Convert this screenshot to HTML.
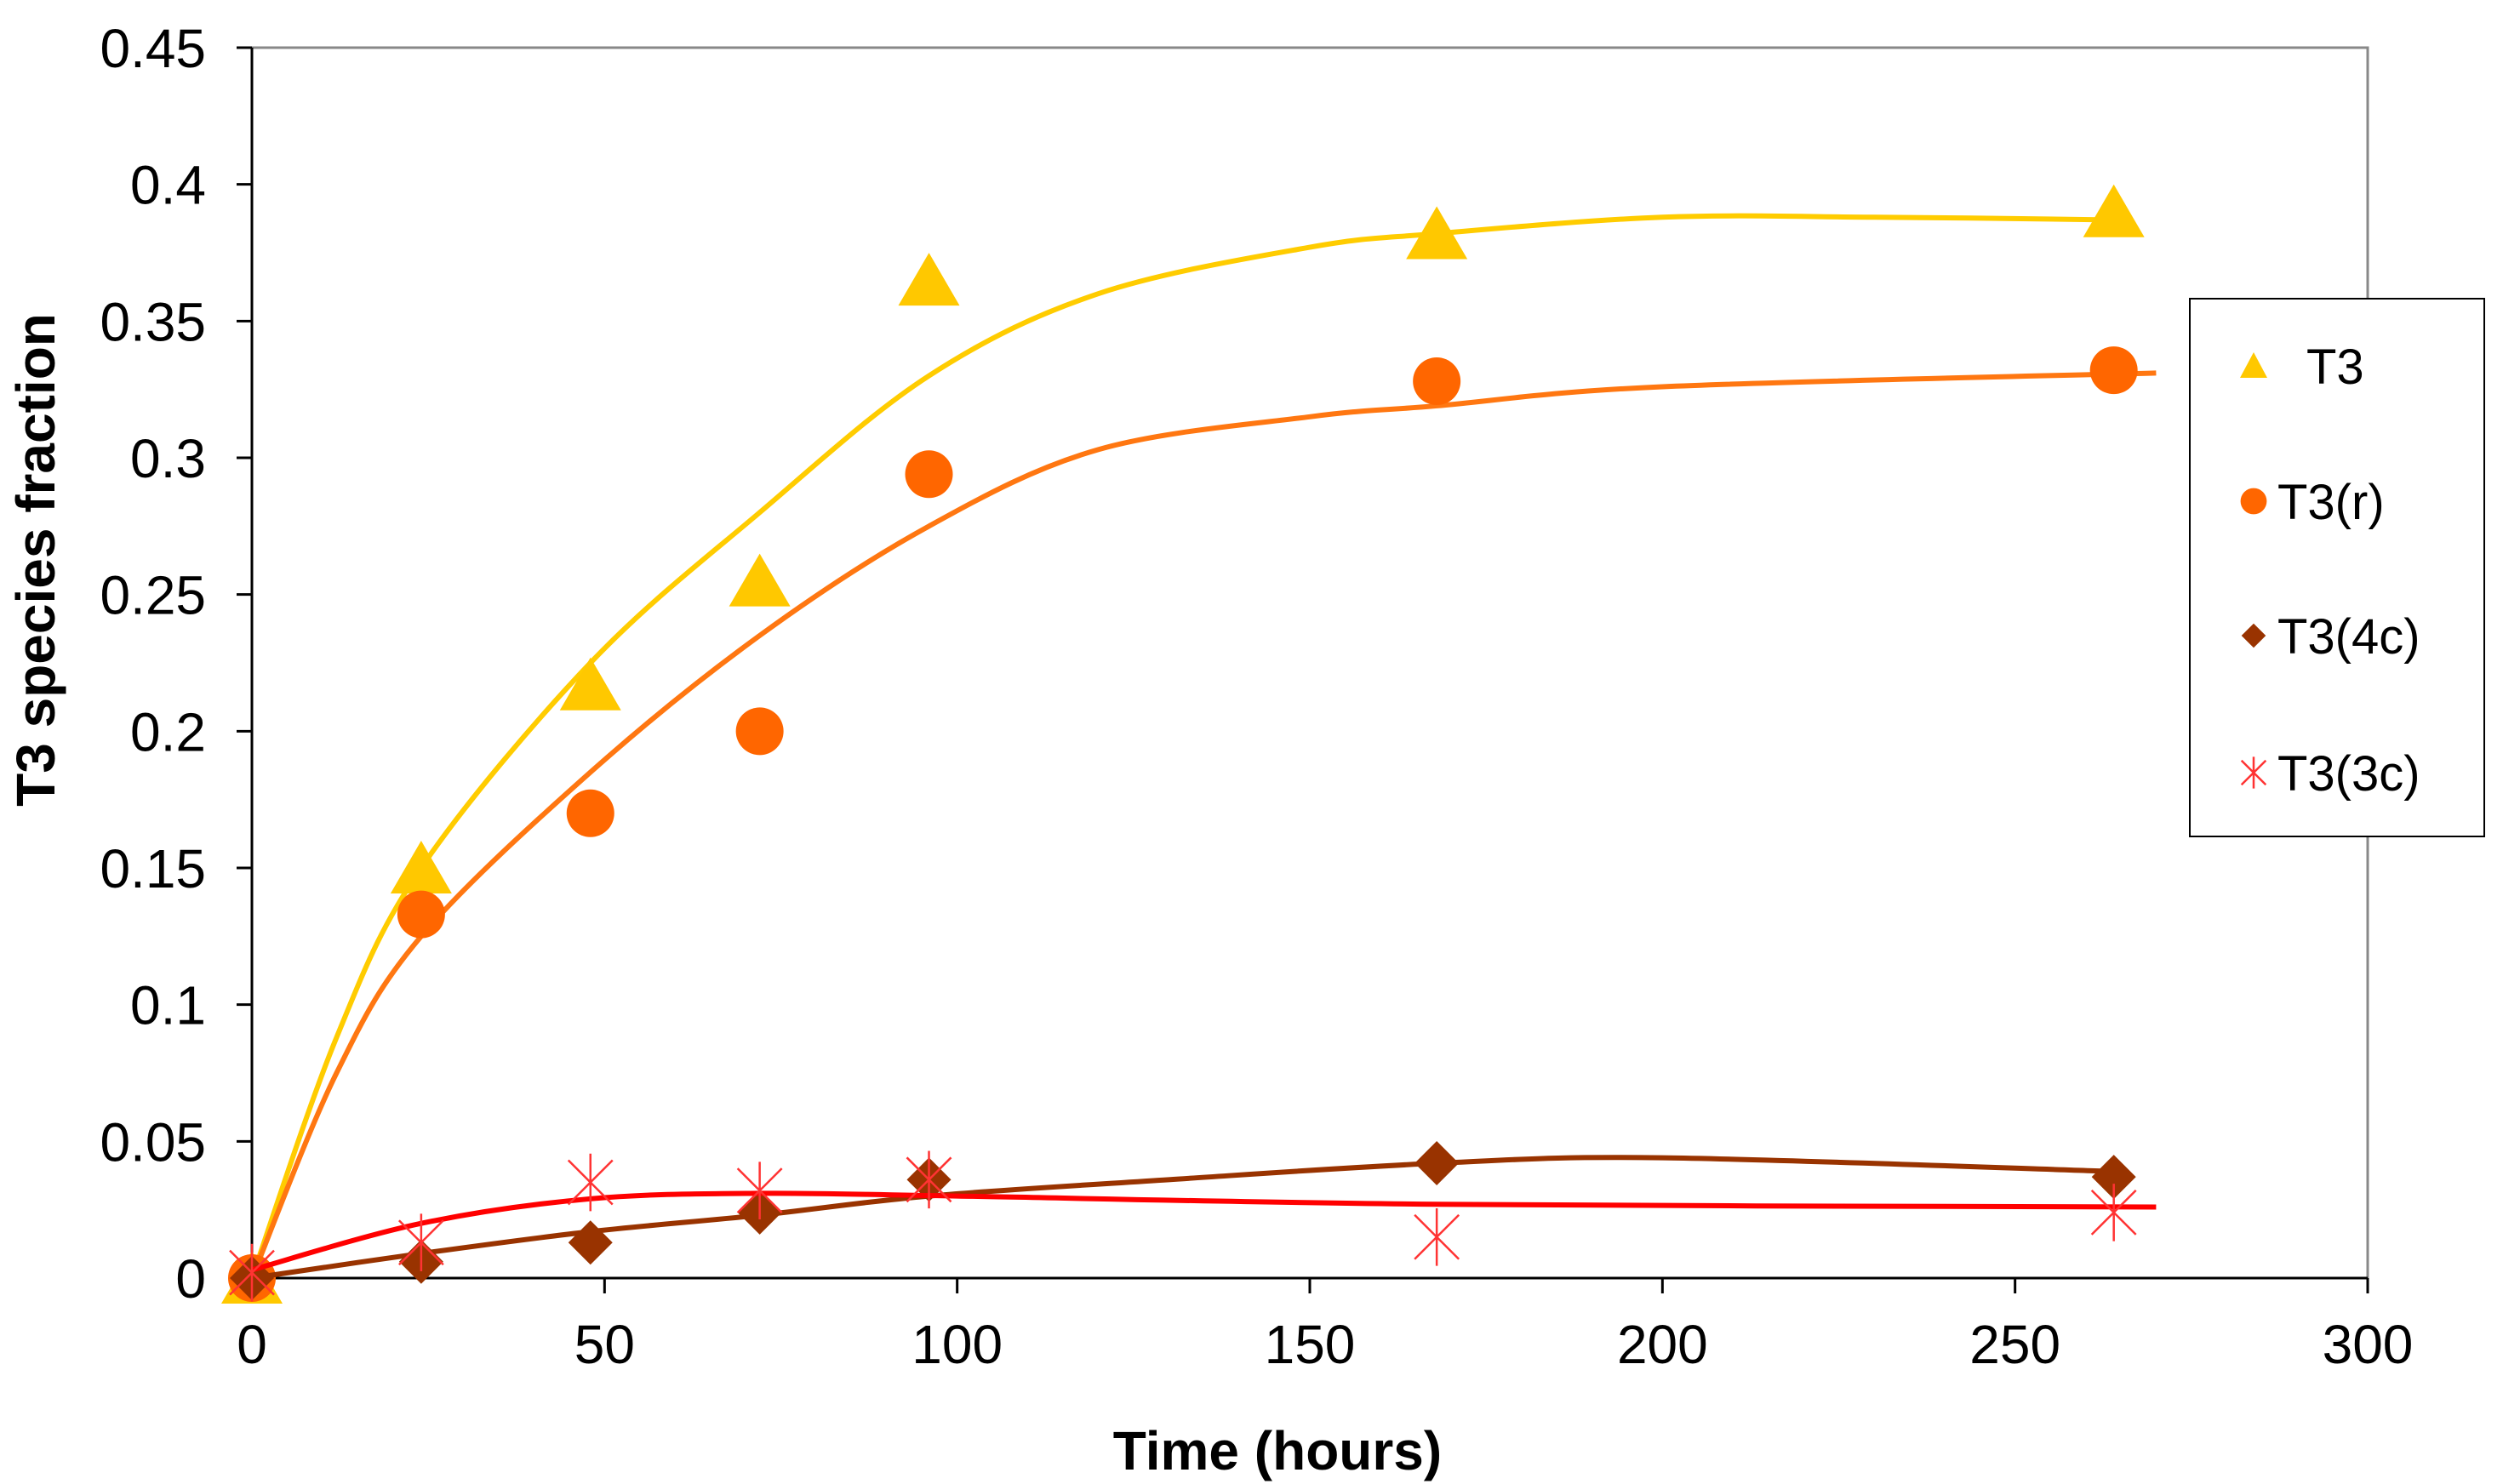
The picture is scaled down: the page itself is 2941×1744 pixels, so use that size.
<!DOCTYPE html>
<html><head><meta charset="utf-8"><style>
html,body{margin:0;padding:0;background:#fff}
svg{display:block}
text{font-family:"Liberation Sans",Arial,sans-serif}
</style></head><body>
<svg id="chart" width="2941" height="1744" viewBox="0 0 2941 1744" xmlns="http://www.w3.org/2000/svg">
<rect x="296" y="56" width="2486" height="1446" fill="#fff" stroke="#888" stroke-width="3"/>
<g id="axes"></g>
<g id="series"></g>
<text x="1501" y="1727" font-size="64" font-weight="bold" text-anchor="middle">Time (hours)</text>
<text transform="translate(64,658) rotate(-90)" font-size="64" font-weight="bold" text-anchor="middle">T3 species fraction</text>
<g>
<rect x="2573" y="351" width="346" height="632" fill="#fff" stroke="#000" stroke-width="2"/>
<g id="legend"></g>
</g>
</svg>
<script>
const xTicks=[0,50,100,150,200,250,300];
const yTicks=[0,0.05,0.1,0.15,0.2,0.25,0.3,0.35,0.4,0.45];
const yTickLabels=["0","0.05","0.1","0.15","0.2","0.25","0.3","0.35","0.4","0.45"];
const times=[0,24,48,72,96,168,264];
const t3Vals=[0,0.15,0.217,0.255,0.365,0.382,0.39];
const t3rVals=[0,0.133,0.17,0.2,0.294,0.328,0.332];
const t34cVals=[0,0.006,0.013,0.024,0.036,0.042,0.037];
const t33cVals=[0.002,0.013,0.035,0.032,0.036,0.015,0.024];
const fitT3X=[0,12,24,48,72,96,120,150,168,200,230,264];
const fitT3Y=[0,0.088,0.15,0.225,0.28,0.33,0.36,0.377,0.382,0.388,0.388,0.387];
const fitT3rX=[0,12,24,48,72,96,120,150,168,200,270];
const fitT3rY=[0,0.075,0.125,0.185,0.235,0.275,0.303,0.315,0.319,0.326,0.331];
const fit4cX=[0,24,48,72,96,130,168,200,264];
const fit4cY=[0,0.009,0.017,0.023,0.03,0.036,0.042,0.044,0.039];
const fit3cX=[0,24,48,72,100,168,270];
const fit3cY=[0.003,0.02,0.029,0.031,0.03,0.027,0.026];
const legendLabels=["T3","T3(r)","T3(4c)","T3(3c)"];

const NS="http://www.w3.org/2000/svg";
const X0=296,X1=2782,Y0=1502,Y1=56;
const xs=v=>X0+(v-0)/(300-0)*(X1-X0);
const ys=v=>Y0-(v-0)/(0.45-0)*(Y0-Y1);
function mk(tag,attrs,parent){const e=document.createElementNS(NS,tag);for(const k in attrs)e.setAttribute(k,attrs[k]);parent.appendChild(e);return e;}
const axes=document.getElementById('axes');
xTicks.forEach((t,i)=>{
  const l=mk('line',{x1:xs(t),x2:xs(t),y1:Y0,y2:Y0+18,stroke:'#000','stroke-width':3},axes);
  
  
  const tx=mk('text',{x:xs(t),y:1602,'font-size':64,'text-anchor':'middle'},axes);
  tx.textContent=String(t);
  
  
});
yTicks.forEach((t,i)=>{
  const l=mk('line',{x1:X0-18,x2:X0,y1:ys(t),y2:ys(t),stroke:'#000','stroke-width':3},axes);
  
  
  const tx=mk('text',{x:242,y:ys(t)+23,'font-size':64,'text-anchor':'end'},axes);
  tx.textContent=yTickLabels[i];
  
  
});
const ax=mk('path',{d:`M${X0} ${Y1} L${X0} ${Y0} L${X1} ${Y0}`,fill:'none',stroke:'#000','stroke-width':3},axes);



function smooth(px,py){
  const p=px.map((x,i)=>[xs(x),ys(py[i])]);
  let d=`M${p[0][0]} ${p[0][1]}`;
  for(let i=0;i<p.length-1;i++){
    const a=p[Math.max(0,i-1)],b=p[i],c=p[i+1],e=p[Math.min(p.length-1,i+2)];
    const c1=[b[0]+(c[0]-a[0])/6,b[1]+(c[1]-a[1])/6],c2=[c[0]-(e[0]-b[0])/6,c[1]-(e[1]-b[1])/6];
    d+=` C${c1[0]} ${c1[1]} ${c2[0]} ${c2[1]} ${c[0]} ${c[1]}`;
  }
  return d;
}
const ser=document.getElementById('series');
function marker(kind,x,y,s,g){
  let e;
  if(kind==='tri'){e=mk('path',{d:`M${x} ${y-32} L${x+36} ${y+30} L${x-36} ${y+30}Z`,fill:'#ffc800'},g);}
  else if(kind==='circ'){e=mk('circle',{cx:x,cy:y,r:28*s,fill:'#ff6600'},g);}
  else if(kind==='dia'){const r=26*s;e=mk('path',{d:`M${x} ${y-r} L${x+r} ${y} L${x} ${y+r} L${x-r} ${y}Z`,fill:'#993300'},g);}
  else {const r=26*s;e=mk('path',{d:`M${x-r} ${y-r} L${x+r} ${y+r} M${x+r} ${y-r} L${x-r} ${y+r} M${x} ${y-r*1.3} L${x} ${y+r*1.3}`,stroke:'#ff3333','stroke-width':2.5,fill:'none'},g);}
  return e;
}
const defs=[
 {name:'t3',kind:'tri',color:'#ffcc00',vals:t3Vals,fx:fitT3X,fy:fitT3Y},
 {name:'t3r',kind:'circ',color:'#ff7711',vals:t3rVals,fx:fitT3rX,fy:fitT3rY},
 {name:'t3-4c',kind:'dia',color:'#993300',vals:t34cVals,fx:fit4cX,fy:fit4cY},
 {name:'t3-3c',kind:'ast',color:'#ff0000',vals:t33cVals,fx:fit3cX,fy:fit3cY}
];
defs.forEach(s=>{
  const g=mk('g',{},ser);
  
  
  const p=mk('path',{d:smooth(s.fx,s.fy),fill:'none',stroke:s.color,'stroke-width':6},g);
  
  
  s.vals.forEach((v,i)=>{
    const m=marker(s.kind,xs(times[i]),ys(v),1,g);
    
    
  });
});
const lg=document.getElementById('legend');
const ly=[430,589,747,908];
defs.forEach((s,i)=>{
  let m;
  if(s.kind==='tri'){m=mk('path',{d:`M2648 ${ly[i]-16} L2664 ${ly[i]+14} L2632 ${ly[i]+14}Z`,fill:'#ffc800'},lg);}
  else m=marker(s.kind,2648,ly[i],0.55,lg);
  
  
  const t=mk('text',{x:i===0?2710:2676,y:ly[i]+21,'font-size':58},lg);
  t.textContent=legendLabels[i];
  
  
});
</script>
</body></html>
